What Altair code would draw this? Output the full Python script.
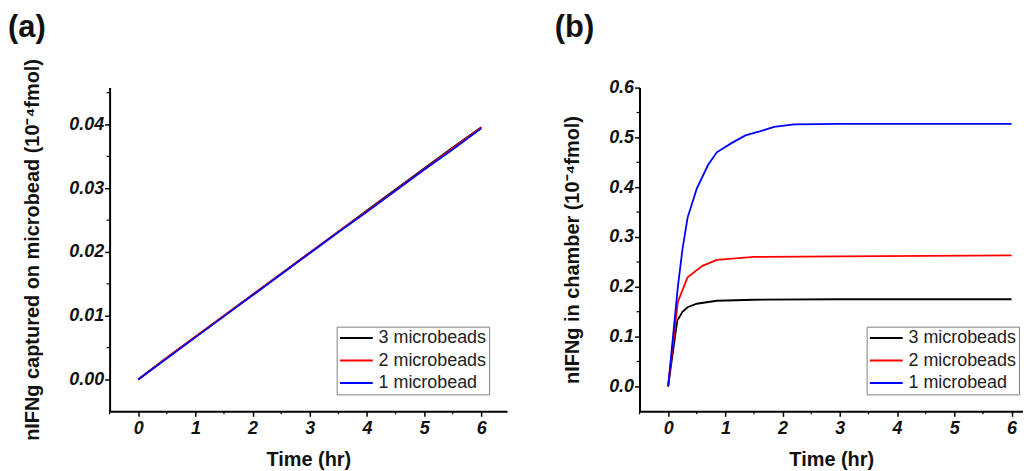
import altair as alt
import pandas as pd

# ---------------- data ----------------
series = ["3 microbeads", "2 microbeads", "1 microbead"]
colors = ["#000000", "#ff0000", "#0000ff"]
panel_labels = ["(a)", "(b)"]

# panel (a): IFNg captured on microbead
a_time = [0, 0.5, 1, 1.5, 2, 2.5, 3, 3.5, 4, 4.5, 5, 5.5, 6]
a_3 = [0, 0.0034, 0.0067, 0.0100, 0.0133, 0.0166, 0.0199, 0.0232, 0.0265, 0.0298, 0.0331, 0.0364, 0.0396]
a_2 = [0, 0.0034, 0.0067, 0.0100, 0.0133, 0.0166, 0.0199, 0.0232, 0.0264, 0.0297, 0.0330, 0.0363, 0.0395]
a_1 = [0, 0.0033, 0.0066, 0.0099, 0.0132, 0.0165, 0.0198, 0.0231, 0.0263, 0.0296, 0.0329, 0.0361, 0.0394]

# panel (b): IFNg in chamber
b_time_3 = [0, 0.16, 0.25, 0.34, 0.5, 0.85, 1.5, 3, 6]
b_3 = [0, 0.132, 0.150, 0.159, 0.166, 0.172, 0.174, 0.175, 0.175]
b_time_2 = [0, 0.17, 0.34, 0.6, 0.85, 1.5, 3, 4.5, 6]
b_2 = [0, 0.170, 0.219, 0.242, 0.254, 0.260, 0.261, 0.262, 0.263]
b_time_1 = [0, 0.17, 0.25, 0.34, 0.5, 0.7, 0.85, 1.1, 1.35, 1.6, 1.85, 2.2, 3, 6]
b_1 = [0, 0.200, 0.275, 0.339, 0.397, 0.445, 0.470, 0.488, 0.504, 0.512, 0.521, 0.526, 0.527, 0.527]

# axis ticks
x_ticks = [0, 1, 2, 3, 4, 5, 6]
x_minor = [-0.5, 0.5, 1.5, 2.5, 3.5, 4.5, 5.5]
a_yticks = [0.0, 0.01, 0.02, 0.03, 0.04]
a_yminor = [0.005, 0.015, 0.025, 0.035, 0.045]
b_yticks = [0.0, 0.1, 0.2, 0.3, 0.4, 0.5, 0.6]
b_yminor = [0.05, 0.15, 0.25, 0.35, 0.45, 0.55]

# ---------------- tables ----------------
def table(pairs):
    rows = []
    for order, (name, ts, vs) in enumerate(pairs):
        for t, v in zip(ts, vs):
            rows.append({"series": name, "t": t, "v": v, "o": order})
    return pd.DataFrame(rows)

df_a = table([(series[0], a_time, a_3), (series[1], a_time, a_2), (series[2], a_time, a_1)])
df_b = table([(series[0], b_time_3, b_3), (series[1], b_time_2, b_2), (series[2], b_time_1, b_1)])

FONT = "Liberation Sans"
H = 325

def panel(df, label, label_dx, width, xdom, ydom, yticks, yminor, yfmt, ytitle):
    xs = alt.Scale(domain=xdom, nice=False, zero=False)
    ys = alt.Scale(domain=ydom, nice=False, zero=False)
    lines = alt.Chart(df).mark_line(strokeWidth=1.8, clip=True).encode(
        x=alt.X("t:Q", scale=xs, title="Time (hr)",
                axis=alt.Axis(values=x_ticks, format="d", titlePadding=12)),
        y=alt.Y("v:Q", scale=ys, title=ytitle,
                axis=alt.Axis(values=yticks, format=yfmt, titlePadding=26)),
        color=alt.Color("series:N", sort=series,
                        scale=alt.Scale(domain=series, range=colors),
                        legend=alt.Legend(orient="none", legendX=228, legendY=240,
                                          title=None, strokeColor="#808080",
                                          fillColor="white", padding=2,
                                          labelFont=FONT, labelFontSize=18,
                                          labelColor="#222222",
                                          symbolType="M-1,0H3", symbolSize=272,
                                          symbolStrokeWidth=2, rowPadding=3.5,
                                          labelOffset=21)),
        order="o:Q",
        detail="series:N",
    )
    ymin = alt.Chart(pd.DataFrame({"m": yminor})).mark_rule(color="black", strokeWidth=1.2).encode(
        y=alt.Y("m:Q", scale=ys), x=alt.value(0), x2=alt.value(-3))
    xmin = alt.Chart(pd.DataFrame({"m": x_minor})).mark_rule(color="black", strokeWidth=1.2).encode(
        x=alt.X("m:Q", scale=xs), y=alt.value(H), y2=alt.value(H + 3))
    lab = alt.Chart(pd.DataFrame({"label": [label]})).mark_text(
        font=FONT, fontSize=31, fontWeight="bold", color="#111111",
        align="left", baseline="alphabetic").encode(
        text="label:N", x=alt.value(label_dx), y=alt.value(-51))
    return alt.layer(lines, ymin, xmin, lab).properties(width=width, height=H)

pa = panel(df_a, panel_labels[0], -102, 399, [-0.5, 6.45], [-0.005, 0.0458], a_yticks, a_yminor, ".2f",
           "nIFNg captured on microbead (10⁻⁴fmol)")
pb = panel(df_b, panel_labels[1], -85, 385, [-0.5, 6.2], [-0.05, 0.6], b_yticks, b_yminor, ".1f",
           "nIFNg in chamber (10⁻⁴fmol)")

chart = alt.hconcat(pa, pb, spacing=48).resolve_scale(color="independent").properties(
    padding={"left": 0, "top": 3, "right": 0, "bottom": 0}
).configure_view(stroke=None).configure_axis(
    grid=False, domainColor="black", domainWidth=2, tickColor="black", tickWidth=1.5,
    tickSize=5, labelFont=FONT, labelFontSize=18, labelFontWeight="bold",
    labelFontStyle="italic", labelColor="#111111", labelPadding=3,
    titleFont=FONT, titleFontSize=20, titleFontWeight="bold", titleColor="#111111",
).configure_axisY(labelPadding=1)

chart.save("out.html", embed_options={"renderer": "svg", "actions": False})
